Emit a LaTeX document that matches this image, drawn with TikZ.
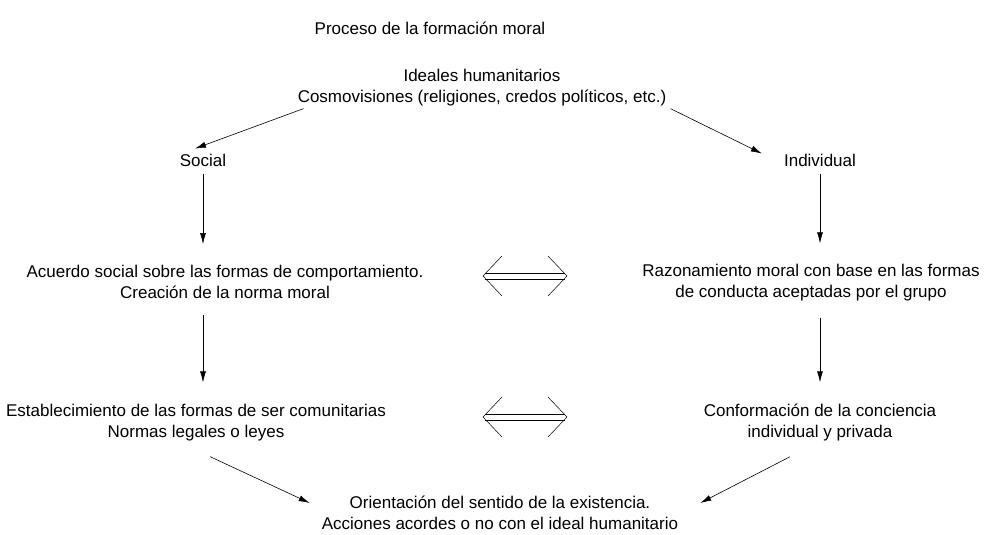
\documentclass[tikz,border=0pt]{standalone}
\usepackage{fontspec}
\setmainfont{Liberation Sans}
\usetikzlibrary{arrows.meta}

\begin{document}
\begin{tikzpicture}[x = 1pt, y = -1pt,
	txt/.style = {align = center, font = \fontsize{17}{21}\selectfont, inner sep = 0pt},
	arr/.style = {-{Latex[length = 11pt, width = 6pt]}, line width = 0.6pt},
	dblarr/.style = {line width = 0.5pt}]

	% Definitions

	\def\L{203}	% Left column
	\def\R{820}	% Right column

	\useasboundingbox (0, 0) rectangle (986, 535);

	% Title and top

	\node [txt] (title) at (430, 28) {Proceso de la formación moral};
	\node [txt] (ideal) at (482, 88) {Ideales humanitarios\\Cosmovisiones (religiones, credos políticos, etc.)};

	% Columns

	\node [txt] (social) at (\L, 160) {Social};
	\node [txt] (indiv) at (\R, 160) {Individual};

	\node [txt] (acuerdo) at (225, 282) {Acuerdo social sobre las formas de comportamiento.\\Creación de la norma moral};
	\node [txt] (razon) at (811, 283) {Razonamiento moral con base en las formas\\de conducta aceptadas por el grupo};

	\node [txt] (establ) at (196, 423) {Establecimiento de las formas de ser comunitarias\\Normas legales o leyes};
	\node [txt] (confor) at (820, 423) {Conformación de la conciencia\\individual y privada};

	\node [txt] (orient) at (500, 513) {Orientación del sentido de la existencia.\\Acciones acordes o no con el ideal humanitario};

	% Arrows

	\draw [arr] ([shift = {(6, 2)}] ideal.south west) -- ([shift = {(-8, -5)}] social.north);
	\draw [arr] ([shift = {(4, 2)}] ideal.south east) -- ([shift = {(-22, 0)}] indiv.north west);

	\draw [arr, shorten <= 8pt, shorten >= 21pt] (social.south) -- (social.south |- acuerdo.north);
	\draw [arr, shorten <= 8pt, shorten >= 21pt] (indiv.south) -- (indiv.south |- razon.north);

	\draw [arr, shorten <= 16pt, shorten >= 22pt] (social.south |- acuerdo.south) -- (social.south |- establ.north);
	\draw [arr, shorten <= 16pt, shorten >= 22pt] (indiv.south |- razon.south) -- (indiv.south |- confor.north);

	\draw [arr] ([shift = {(14, 15)}] establ.south) -- ([shift = {(-12, 7)}] orient.north west);
	\draw [arr] ([shift = {(-30, 15)}] confor.south) -- ([shift = {(22, 7)}] orient.north east);

	% Double arrows between columns

	\foreach \y [count = \i] in {276, 417} {
		\coordinate (dl\i) at (483, \y);
		\coordinate (dr\i) at (567, \y);
		\draw [dblarr] ([shift = {(2, -3)}] dl\i) -- ([shift = {(-2, -3)}] dr\i);
		\draw [dblarr] ([shift = {(2, 3)}] dl\i) -- ([shift = {(-2, 3)}] dr\i);
		\draw [dblarr] ([shift = {(19, -20)}] dl\i) -- (dl\i) -- ([shift = {(19, 20)}] dl\i);
		\draw [dblarr] ([shift = {(-19, -20)}] dr\i) -- (dr\i) -- ([shift = {(-19, 20)}] dr\i);
	}

\end{tikzpicture}
\end{document}
